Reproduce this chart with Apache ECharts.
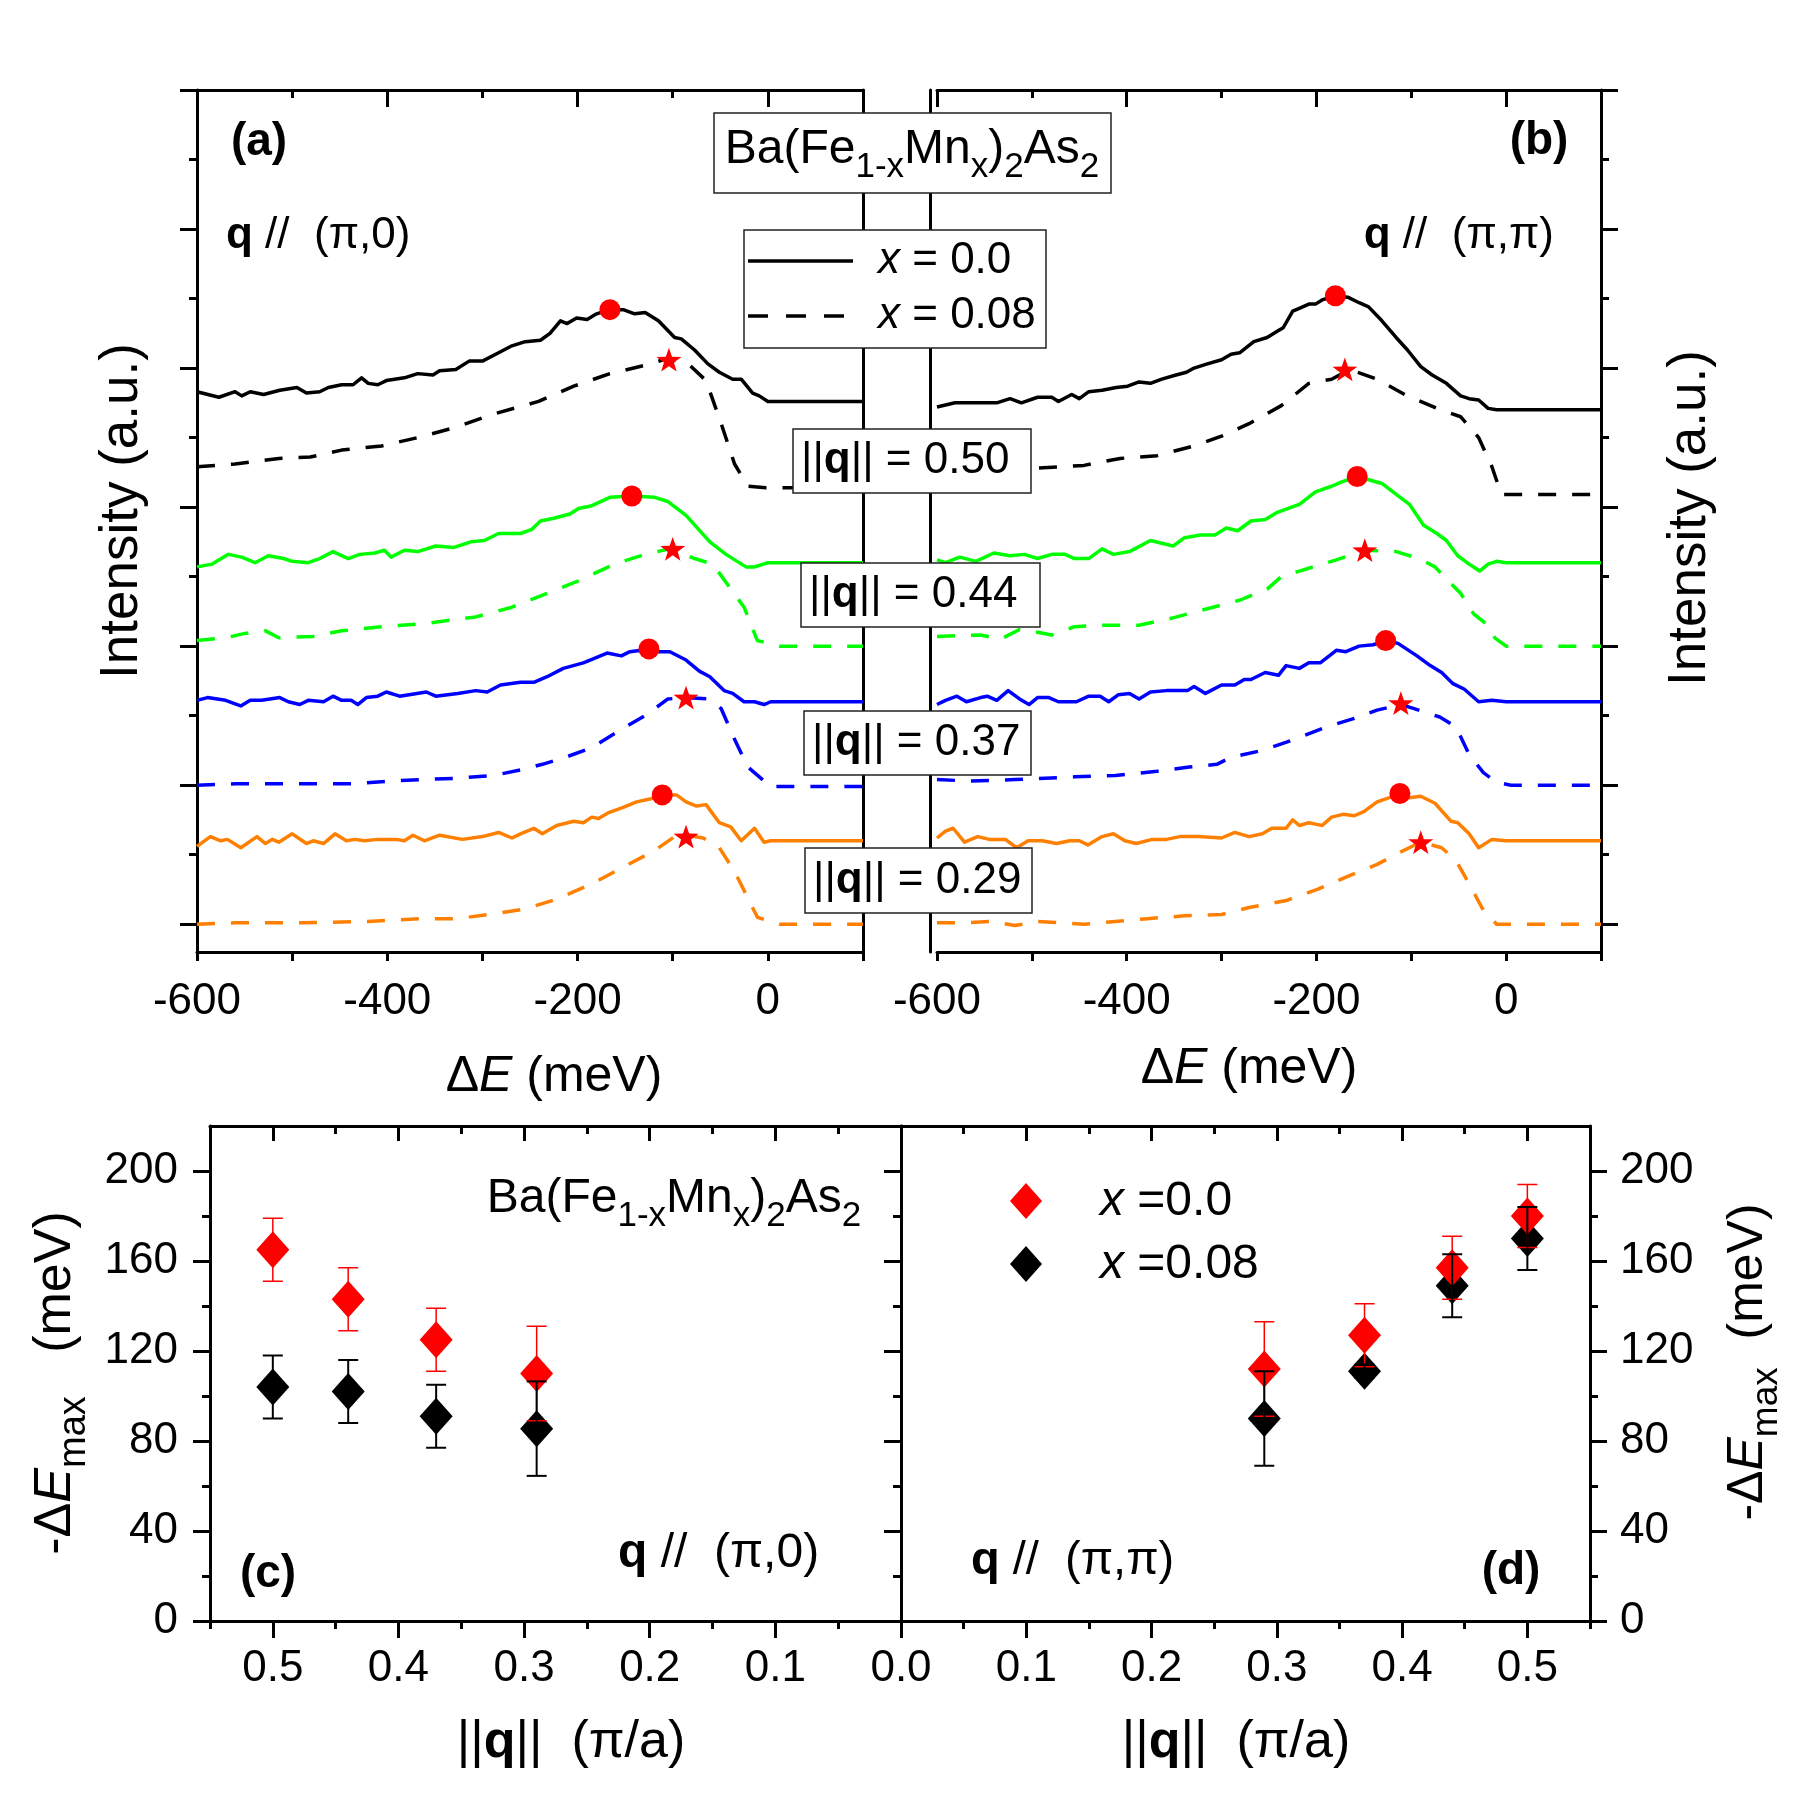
<!DOCTYPE html>
<html lang="en">
<head>
  <meta charset="UTF-8">
  <title>Ba(Fe1-xMnx)2As2 RIXS</title>
  <style>
    html, body { margin: 0; width: 100%; height: 100%; background: #fff; }
  </style>
</head>
<body>
  <div id="chart" style="width:1800px;height:1800px"></div>
  <script src="https://cdn.jsdelivr.net/npm/echarts@6/dist/echarts.min.js"></script>
  <script>
    // ---- tick values ----
    const eMajor = [-600, -400, -200, 0]
    const eMinor = [-500, -300, -100, 100]
    const eAll = [-600, -500, -400, -300, -200, -100, 0, 100]
    const iMajor = [0, 1, 2, 3, 4, 5, 6]
    const iMinor = [0.5, 1.5, 2.5, 3.5, 4.5, 5.5]
    const qMajor = [0, 0.1, 0.2, 0.3, 0.4, 0.5]
    const qMinor = [0.05, 0.15, 0.25, 0.35, 0.45, 0.55]
    const dMajor = [0, 40, 80, 120, 160, 200]
    const dMinor = [20, 60, 100, 140, 180]

    // ---- panel (a): q // (pi,0), [energy loss meV, intensity a.u.] ----
    const aS50 = [[-600,3.83],[-577,3.79],[-560,3.83],[-553,3.80],[-544,3.83],[-530,3.81],[-513,3.84],[-495,3.86],[-485,3.82],[-471,3.83],[-462,3.86],[-448,3.88],[-436,3.88],[-427,3.93],[-420,3.89],[-410,3.88],[-401,3.91],[-382,3.93],[-368,3.96],[-352,3.95],[-345,3.98],[-328,3.99],[-314,4.05],[-300,4.05],[-283,4.11],[-269,4.16],[-255,4.19],[-239,4.20],[-229,4.25],[-218,4.34],[-211,4.32],[-201,4.36],[-190,4.35],[-180,4.39],[-166,4.42],[-152,4.42],[-140,4.39],[-129,4.40],[-115,4.34],[-98,4.22],[-91,4.21],[-77,4.13],[-63,4.03],[-51,3.97],[-37,3.92],[-28,3.92],[-16,3.82],[-9,3.80],[0,3.76],[100,3.76]]
    const aD50 = [[-600,3.29],[-560,3.31],[-514,3.35],[-481,3.36],[-448,3.41],[-406,3.44],[-368,3.50],[-330,3.57],[-288,3.67],[-241,3.76],[-204,3.87],[-166,3.96],[-129,4.02],[-105,4.07],[-82,4.02],[-65,3.91],[-49,3.60],[-35,3.31],[-21,3.15],[-2,3.14],[100,3.14]]
    const aS44 = [[-600,2.57],[-584,2.59],[-567,2.66],[-553,2.64],[-539,2.60],[-525,2.65],[-509,2.63],[-500,2.61],[-483,2.60],[-471,2.63],[-457,2.68],[-441,2.63],[-429,2.66],[-413,2.67],[-403,2.69],[-396,2.64],[-382,2.69],[-368,2.68],[-349,2.72],[-330,2.71],[-312,2.75],[-298,2.76],[-283,2.81],[-260,2.81],[-248,2.84],[-239,2.90],[-225,2.92],[-208,2.95],[-199,2.99],[-185,3.01],[-166,3.07],[-143,3.08],[-119,3.07],[-105,3.04],[-86,2.94],[-61,2.75],[-44,2.66],[-23,2.57],[-14,2.57],[0,2.60],[100,2.60]]
    const aD44 = [[-600,2.04],[-570,2.06],[-551,2.09],[-528,2.11],[-514,2.06],[-478,2.07],[-448,2.11],[-406,2.14],[-363,2.16],[-330,2.19],[-307,2.21],[-269,2.28],[-232,2.38],[-199,2.47],[-161,2.59],[-129,2.66],[-103,2.70],[-77,2.63],[-58,2.59],[-44,2.46],[-25,2.28],[-11,2.04],[12,2.00],[100,2.00]]
    const aS37 = [[-600,1.61],[-589,1.63],[-570,1.61],[-554,1.57],[-544,1.61],[-532,1.61],[-513,1.63],[-504,1.60],[-492,1.58],[-483,1.61],[-467,1.60],[-457,1.64],[-448,1.61],[-438,1.61],[-431,1.58],[-422,1.63],[-410,1.64],[-401,1.67],[-387,1.64],[-359,1.67],[-349,1.64],[-326,1.66],[-307,1.68],[-295,1.67],[-281,1.72],[-260,1.74],[-246,1.74],[-232,1.78],[-215,1.84],[-194,1.88],[-183,1.91],[-169,1.95],[-154,1.93],[-145,1.96],[-133,1.97],[-125,1.98],[-115,1.96],[-103,1.96],[-86,1.90],[-72,1.82],[-61,1.78],[-46,1.68],[-37,1.66],[-25,1.60],[-14,1.60],[-4,1.58],[3,1.60],[100,1.60]]
    const aD37 = [[-600,1.00],[-560,1.01],[-514,1.01],[-471,1.01],[-434,1.01],[-396,1.03],[-363,1.04],[-326,1.05],[-288,1.07],[-260,1.11],[-237,1.15],[-213,1.20],[-185,1.27],[-152,1.41],[-129,1.50],[-105,1.62],[-86,1.63],[-63,1.62],[-49,1.55],[-35,1.33],[-21,1.13],[3,0.99],[100,0.99]]
    const aS29 = [[-600,0.56],[-586,0.63],[-575,0.60],[-568,0.61],[-554,0.55],[-537,0.63],[-528,0.58],[-521,0.61],[-514,0.59],[-500,0.65],[-485,0.58],[-478,0.60],[-467,0.58],[-455,0.65],[-443,0.60],[-434,0.61],[-424,0.60],[-410,0.61],[-391,0.61],[-382,0.60],[-373,0.64],[-361,0.60],[-345,0.64],[-321,0.61],[-300,0.63],[-283,0.66],[-269,0.62],[-260,0.65],[-246,0.69],[-237,0.65],[-222,0.71],[-204,0.74],[-194,0.73],[-185,0.77],[-178,0.76],[-168,0.80],[-152,0.84],[-138,0.88],[-124,0.90],[-111,0.93],[-96,0.93],[-86,0.88],[-75,0.85],[-65,0.86],[-51,0.73],[-39,0.70],[-28,0.60],[-14,0.69],[-4,0.59],[3,0.60],[100,0.60]]
    const aD29 = [[-600,0.00],[-560,0.01],[-490,0.01],[-420,0.02],[-363,0.04],[-326,0.04],[-283,0.08],[-255,0.11],[-222,0.18],[-185,0.29],[-152,0.41],[-119,0.53],[-96,0.64],[-86,0.64],[-68,0.62],[-51,0.55],[-35,0.38],[-11,0.05],[12,0.00],[100,0.00]]

    // ---- panel (b): q // (pi,pi) ----
    const bS50 = [[-600,3.72],[-581,3.75],[-562,3.75],[-537,3.75],[-523,3.78],[-511,3.75],[-494,3.79],[-479,3.79],[-472,3.76],[-458,3.81],[-450,3.78],[-440,3.83],[-426,3.84],[-411,3.86],[-399,3.87],[-387,3.90],[-375,3.89],[-363,3.92],[-348,3.95],[-337,3.97],[-329,4.00],[-315,4.03],[-300,4.06],[-290,4.10],[-281,4.11],[-266,4.19],[-252,4.22],[-240,4.27],[-235,4.29],[-225,4.41],[-218,4.43],[-208,4.46],[-201,4.46],[-194,4.49],[-180,4.52],[-167,4.51],[-155,4.47],[-145,4.44],[-131,4.34],[-116,4.22],[-104,4.13],[-90,4.01],[-78,3.95],[-63,3.89],[-48,3.80],[-39,3.78],[-29,3.77],[-19,3.71],[-10,3.70],[100,3.70]]
    const bD50 = [[-600,3.27],[-550,3.27],[-494,3.28],[-445,3.30],[-407,3.35],[-368,3.37],[-329,3.44],[-300,3.51],[-271,3.60],[-237,3.73],[-208,3.89],[-184,3.92],[-170,3.97],[-157,3.97],[-136,3.92],[-107,3.81],[-73,3.71],[-48,3.65],[-29,3.50],[-15,3.29],[-5,3.09],[100,3.09]]
    const bS44 = [[-600,2.62],[-591,2.60],[-576,2.64],[-559,2.61],[-540,2.67],[-523,2.65],[-508,2.66],[-494,2.63],[-479,2.66],[-465,2.66],[-455,2.63],[-440,2.63],[-426,2.70],[-414,2.66],[-397,2.68],[-375,2.76],[-363,2.74],[-351,2.72],[-339,2.78],[-322,2.80],[-307,2.80],[-295,2.85],[-283,2.83],[-269,2.90],[-254,2.91],[-242,2.96],[-218,3.02],[-201,3.11],[-184,3.15],[-174,3.18],[-157,3.22],[-131,3.17],[-102,3.02],[-87,2.87],[-73,2.81],[-63,2.76],[-51,2.65],[-39,2.59],[-28,2.54],[-19,2.59],[-10,2.61],[0,2.60],[100,2.60]]
    const bD44 = [[-600,2.07],[-554,2.08],[-533,2.05],[-513,2.12],[-494,2.10],[-479,2.08],[-455,2.14],[-426,2.15],[-387,2.15],[-353,2.20],[-320,2.26],[-281,2.33],[-252,2.41],[-237,2.50],[-218,2.54],[-179,2.62],[-149,2.69],[-116,2.68],[-92,2.63],[-75,2.57],[-61,2.47],[-48,2.38],[-34,2.23],[-19,2.15],[-12,2.06],[0,2.00],[100,2.00]]
    const bS37 = [[-600,1.58],[-591,1.61],[-579,1.64],[-569,1.60],[-554,1.63],[-547,1.64],[-537,1.61],[-525,1.68],[-513,1.62],[-503,1.58],[-494,1.63],[-482,1.63],[-472,1.60],[-453,1.60],[-440,1.64],[-428,1.64],[-419,1.60],[-409,1.65],[-397,1.66],[-387,1.62],[-375,1.67],[-358,1.68],[-336,1.68],[-329,1.71],[-317,1.66],[-300,1.72],[-286,1.72],[-276,1.76],[-269,1.76],[-254,1.81],[-240,1.79],[-232,1.86],[-218,1.84],[-208,1.88],[-196,1.88],[-179,1.97],[-169,1.96],[-155,2.00],[-140,2.01],[-127,2.04],[-114,2.02],[-94,1.93],[-80,1.86],[-68,1.81],[-56,1.73],[-44,1.69],[-29,1.60],[-15,1.61],[0,1.60],[100,1.60]]
    const bD37 = [[-600,1.04],[-566,1.03],[-518,1.04],[-455,1.06],[-412,1.07],[-368,1.10],[-334,1.13],[-305,1.15],[-290,1.20],[-257,1.25],[-223,1.33],[-189,1.42],[-160,1.48],[-136,1.54],[-111,1.58],[-97,1.55],[-70,1.49],[-53,1.42],[-39,1.22],[-24,1.09],[-10,1.02],[5,1.00],[100,1.00]]
    const bS29 = [[-600,0.62],[-591,0.67],[-583,0.69],[-571,0.59],[-557,0.63],[-545,0.61],[-528,0.61],[-516,0.55],[-504,0.60],[-489,0.60],[-474,0.58],[-460,0.60],[-450,0.60],[-441,0.57],[-426,0.63],[-414,0.65],[-402,0.60],[-390,0.58],[-373,0.61],[-358,0.61],[-344,0.63],[-324,0.63],[-300,0.62],[-286,0.66],[-271,0.63],[-257,0.65],[-247,0.69],[-232,0.69],[-225,0.75],[-218,0.71],[-208,0.73],[-201,0.72],[-194,0.71],[-184,0.77],[-172,0.79],[-160,0.78],[-150,0.81],[-136,0.88],[-123,0.91],[-112,0.94],[-102,0.91],[-90,0.92],[-75,0.87],[-58,0.74],[-51,0.73],[-39,0.65],[-29,0.55],[-15,0.61],[0,0.60],[100,0.60]]
    const bD29 = [[-600,0.01],[-571,0.01],[-542,0.02],[-518,-0.01],[-494,0.02],[-445,0.00],[-412,0.02],[-378,0.04],[-339,0.06],[-300,0.07],[-271,0.12],[-232,0.17],[-199,0.25],[-165,0.35],[-136,0.43],[-111,0.52],[-90,0.59],[-68,0.55],[-53,0.46],[-39,0.29],[-24,0.10],[-10,0.00],[100,0.00]]

    // peak positions marked in (a) and (b)
    const peaksA00 = [[-166,4.42],[-143,3.08],[-125,1.98],[-111,0.93]]
    const peaksA08 = [[-104,4.06],[-100,2.70],[-86,1.63],[-86,0.63]]
    const peaksB00 = [[-180,4.52],[-157,3.22],[-127,2.04],[-112,0.94]]
    const peaksB08 = [[-170,3.99],[-149,2.69],[-111,1.59],[-90,0.59]]

    // ---- panels (c), (d): -dE_max vs |q| ----
    const qVals = [0.5, 0.44, 0.37, 0.29]
    const cX00 = [165, 143, 125, 110]
    const cX00Err = [14, 14, 14, 21]
    const cX08 = [104, 102, 91, 85.5]
    const cX08Err = [14, 14, 14, 21]
    const dX00 = [180, 157, 127, 112]
    const dX00Err = [14, 14, 14, 21]
    const dX08 = [170, 149, 111, 90]
    const dX08Err = [14, 14, 3, 21]

    const FONT = '"Liberation Sans", Arial, sans-serif'
    const BLACK = '#000000', GREEN = '#00ff00', BLUE = '#0000ff', ORANGE = '#ff8000', RED = '#ff0000'
    const DASH = [18, 16]
    const STAR = 'path://M0,-10L2.35,-3.24L9.51,-3.09L3.8,1.24L5.88,8.09L0,4L-5.88,8.09L-3.8,1.24L-9.51,-3.09L-2.35,-3.24Z'

    const line = { show: true, onZero: false, lineStyle: { color: '#000', width: 3 } }
    const noLine = { show: false, onZero: false }
    function ticks(vals, len, inside) {
      return { show: true, customValues: vals, length: len, inside: !!inside, lineStyle: { color: '#000', width: 3 } }
    }
    function labels(vals, margin, fmt) {
      return { show: true, customValues: vals, margin: margin, color: '#000', fontSize: 44, fontFamily: FONT, formatter: fmt }
    }
    function axis(o) {
      return Object.assign({
        type: 'value', splitLine: { show: false }, axisLine: noLine,
        axisTick: { show: false }, axisLabel: { show: false }
      }, o)
    }
    const q1 = v => v.toFixed(1)
    const eRange = { min: -600, max: 100 }
    const iRange = { min: -0.2, max: 6 }
    const qRange = { min: 0, max: 0.55 }
    const dRange = { min: 0, max: 220 }

    const xAxes = [
      // (a)
      axis(Object.assign({ gridIndex: 0, position: 'bottom', axisLine: line, axisTick: ticks(eAll, 9), axisLabel: labels(eMajor, 28) }, eRange)),
      axis(Object.assign({ gridIndex: 0, position: 'top', axisLine: line, axisTick: ticks(eMajor, 17, true) }, eRange)),
      axis(Object.assign({ gridIndex: 0, position: 'top', axisTick: ticks(eMinor, 8, true) }, eRange)),
      // (b)
      axis(Object.assign({ gridIndex: 1, position: 'bottom', axisLine: line, axisTick: ticks(eAll, 9), axisLabel: labels(eMajor, 28) }, eRange)),
      axis(Object.assign({ gridIndex: 1, position: 'top', axisLine: line, axisTick: ticks(eMajor, 17, true) }, eRange)),
      axis(Object.assign({ gridIndex: 1, position: 'top', axisTick: ticks(eMinor, 8, true) }, eRange)),
      // (c)
      axis(Object.assign({ gridIndex: 2, position: 'bottom', inverse: true, axisLine: line, axisTick: ticks(qMajor, 17), axisLabel: labels([0.1, 0.2, 0.3, 0.4, 0.5], 26, q1) }, qRange)),
      axis(Object.assign({ gridIndex: 2, position: 'bottom', inverse: true, axisTick: ticks(qMinor, 8) }, qRange)),
      axis(Object.assign({ gridIndex: 2, position: 'top', inverse: true, axisLine: line, axisTick: ticks(qMajor, 15, true) }, qRange)),
      axis(Object.assign({ gridIndex: 2, position: 'top', inverse: true, axisTick: ticks(qMinor, 8, true) }, qRange)),
      // (d)
      axis(Object.assign({ gridIndex: 3, position: 'bottom', axisLine: line, axisTick: ticks(qMajor, 17), axisLabel: labels(qMajor, 26, q1) }, qRange)),
      axis(Object.assign({ gridIndex: 3, position: 'bottom', axisTick: ticks(qMinor, 8) }, qRange)),
      axis(Object.assign({ gridIndex: 3, position: 'top', axisLine: line, axisTick: ticks(qMajor, 15, true) }, qRange)),
      axis(Object.assign({ gridIndex: 3, position: 'top', axisTick: ticks(qMinor, 8, true) }, qRange))
    ]
    const yAxes = [
      // (a)
      axis(Object.assign({ gridIndex: 0, position: 'left', axisLine: line, axisTick: ticks(iMajor, 17) }, iRange)),
      axis(Object.assign({ gridIndex: 0, position: 'left', axisTick: ticks(iMinor, 8) }, iRange)),
      axis(Object.assign({ gridIndex: 0, position: 'right', axisLine: line }, iRange)),
      // (b)
      axis(Object.assign({ gridIndex: 1, position: 'left', offset: 7, axisLine: line }, iRange)),
      axis(Object.assign({ gridIndex: 1, position: 'right', axisLine: line, axisTick: ticks(iMajor, 17) }, iRange)),
      axis(Object.assign({ gridIndex: 1, position: 'right', axisTick: ticks(iMinor, 8) }, iRange)),
      // (c)
      axis(Object.assign({ gridIndex: 2, position: 'left', axisLine: line, axisTick: ticks(dMajor, 17), axisLabel: labels(dMajor, 32) }, dRange)),
      axis(Object.assign({ gridIndex: 2, position: 'left', axisTick: ticks(dMinor, 8) }, dRange)),
      axis(Object.assign({ gridIndex: 2, position: 'right', axisLine: line, axisTick: ticks(dMajor, 17, true) }, dRange)),
      axis(Object.assign({ gridIndex: 2, position: 'right', axisTick: ticks(dMinor, 8, true) }, dRange)),
      // (d)
      axis(Object.assign({ gridIndex: 3, position: 'left', axisLine: line }, dRange)),
      axis(Object.assign({ gridIndex: 3, position: 'right', axisLine: line, axisTick: ticks(dMajor, 17), axisLabel: labels(dMajor, 30) }, dRange)),
      axis(Object.assign({ gridIndex: 3, position: 'right', axisTick: ticks(dMinor, 8) }, dRange))
    ]

    function curve(data, color, dashed, xi, yi) {
      return {
        type: 'line', data: data, xAxisIndex: xi, yAxisIndex: yi, symbol: 'none', showSymbol: false,
        z: 2, silent: true, animation: false,
        lineStyle: { color: color, width: 3.5, type: dashed ? DASH : 'solid', cap: 'butt', join: 'round' }
      }
    }
    function peaks(data, star, xi, yi) {
      return {
        type: 'scatter', data: data, xAxisIndex: xi, yAxisIndex: yi, z: 4, silent: true, animation: false,
        symbol: star ? STAR : 'circle', symbolSize: star ? 25 : 21, symbolKeepAspect: true,
        itemStyle: { color: RED, opacity: 1 }
      }
    }
    function diamonds(vals, color, xi, yi, z) {
      return {
        type: 'scatter', data: qVals.map((q, i) => [q, vals[i]]), xAxisIndex: xi, yAxisIndex: yi, z: z,
        silent: true, animation: false, symbol: 'diamond', symbolSize: [33, 37], itemStyle: { color: color, opacity: 1 }
      }
    }
    function errbars(vals, errs, color, width, xi, yi) {
      return {
        type: 'custom', xAxisIndex: xi, yAxisIndex: yi, z: 6, silent: true, animation: false,
        data: qVals.map((q, i) => [q, vals[i], errs[i]]),
        encode: { x: 0, y: 1 },
        renderItem: function (params, api) {
          const x = api.value(0), y = api.value(1), e = api.value(2)
          const top = api.coord([x, y + e])
          const bot = api.coord([x, y - e])
          const st = { stroke: color, lineWidth: width }
          const hw = 10
          return {
            type: 'group', children: [
              { type: 'line', shape: { x1: top[0], y1: top[1], x2: bot[0], y2: bot[1] }, style: st },
              { type: 'line', shape: { x1: top[0] - hw, y1: top[1], x2: top[0] + hw, y2: top[1] }, style: st },
              { type: 'line', shape: { x1: bot[0] - hw, y1: bot[1], x2: bot[0] + hw, y2: bot[1] }, style: st }
            ]
          }
        }
      }
    }

    const series = [
      curve(aS50, BLACK, false, 0, 0), curve(aD50, BLACK, true, 0, 0),
      curve(aS44, GREEN, false, 0, 0), curve(aD44, GREEN, true, 0, 0),
      curve(aS37, BLUE, false, 0, 0), curve(aD37, BLUE, true, 0, 0),
      curve(aS29, ORANGE, false, 0, 0), curve(aD29, ORANGE, true, 0, 0),
      curve(bS50, BLACK, false, 3, 4), curve(bD50, BLACK, true, 3, 4),
      curve(bS44, GREEN, false, 3, 4), curve(bD44, GREEN, true, 3, 4),
      curve(bS37, BLUE, false, 3, 4), curve(bD37, BLUE, true, 3, 4),
      curve(bS29, ORANGE, false, 3, 4), curve(bD29, ORANGE, true, 3, 4),
      peaks(peaksA00, false, 0, 0), peaks(peaksA08, true, 0, 0),
      peaks(peaksB00, false, 3, 4), peaks(peaksB08, true, 3, 4),
      diamonds(cX08, BLACK, 6, 6, 3), diamonds(cX00, RED, 6, 6, 4),
      diamonds(dX08, BLACK, 10, 11, 3), diamonds(dX00, RED, 10, 11, 4),
      errbars(cX00, cX00Err, RED, 1.5, 6, 6), errbars(cX08, cX08Err, BLACK, 2, 6, 6),
      errbars(dX00, dX00Err, RED, 1.5, 10, 11), errbars(dX08, dX08Err, BLACK, 2, 10, 11)
    ]

    // ---- annotations ----
    function rich(S) {
      const s = Math.round(S * 0.73)
      return {
        b: { fontSize: S, fontFamily: FONT, fontWeight: 'bold', lineHeight: S + 4 },
        i: { fontSize: S, fontFamily: FONT, fontStyle: 'italic', lineHeight: S + 4 },
        s: { fontSize: s, fontFamily: FONT, lineHeight: s, padding: [Math.round(S * 0.73), 0, 0, 0] }
      }
    }
    function text(x, y, str, S, opt) {
      opt = opt || {}
      return {
        type: 'text', x: x, y: y, z: 100, rotation: opt.rot || 0,
        style: {
          text: str, fill: '#000', fontSize: S, fontFamily: FONT, fontWeight: opt.bold ? 'bold' : 'normal',
          lineHeight: S + 4, align: opt.align || 'center', verticalAlign: 'middle',
          textAlign: opt.align || 'center', textVerticalAlign: 'middle', rich: rich(S)
        }
      }
    }
    function box(x, y, w, h) {
      return { type: 'rect', z: 99, shape: { x: x, y: y, width: w, height: h }, style: { fill: '#fff', stroke: '#222', lineWidth: 1.5 } }
    }
    const formula = 'Ba(Fe{s|1-x}Mn{s|x}){s|2}As{s|2}'
    const qBoxes = [[793, 429, 238, 64, '0.50'], [801, 563, 239, 64, '0.44'], [804, 711, 227, 64, '0.37'], [805, 848, 227, 65, '0.29']]
    const R = Math.PI / 2

    const graphics = [
      box(714, 113, 397, 80), text(912, 150, formula, 48),
      box(744, 230, 302, 118),
      { type: 'line', z: 100, shape: { x1: 748, y1: 261, x2: 853, y2: 261 }, style: { stroke: '#000', lineWidth: 3.5 } },
      { type: 'line', z: 100, shape: { x1: 748, y1: 316, x2: 853, y2: 316 }, style: { stroke: '#000', lineWidth: 3.5, lineDash: [20, 18] } },
      text(878, 261, '{i|x} = 0.0', 44, { align: 'left' }),
      text(878, 316, '{i|x} = 0.08', 44, { align: 'left' }),
      text(259, 142, '(a)', 46, { bold: true }),
      text(1539, 141, '(b)', 46, { bold: true }),
      text(226, 236, '{b|q} //  (π,0)', 44, { align: 'left' }),
      text(1554, 236, '{b|q} //  (π,π)', 44, { align: 'right' }),
      text(122, 511, 'Intensity (a.u.)', 53, { rot: R }),
      text(1690, 518, 'Intensity (a.u.)', 53, { rot: R }),
      text(554, 1077, 'Δ{i|E} (meV)', 50),
      text(1249, 1069, 'Δ{i|E} (meV)', 50),
      text(674, 1199, formula, 48),
      text(618, 1554, '{b|q} //  (π,0)', 48, { align: 'left' }),
      text(268, 1574, '(c)', 46, { bold: true }),
      text(971, 1561, '{b|q} //  (π,π)', 47, { align: 'left' }),
      text(1511, 1571, '(d)', 46, { bold: true }),
      { type: 'polygon', z: 100, shape: { points: [[1026, 1183], [1042, 1201], [1026, 1219], [1010, 1201]] }, style: { fill: RED } },
      { type: 'polygon', z: 100, shape: { points: [[1026, 1246], [1042, 1264], [1026, 1282], [1010, 1264]] }, style: { fill: BLACK } },
      text(1100, 1202, '{i|x} =0.0', 48, { align: 'left' }),
      text(1100, 1265, '{i|x} =0.08', 48, { align: 'left' }),
      text(571, 1743, '||{b|q}||  (π/a)', 52),
      text(1236, 1743, '||{b|q}||  (π/a)', 52),
      text(56, 1383, '-Δ{i|E}{s|max}   (meV)', 52, { rot: R }),
      text(1748, 1362, '-Δ{i|E}{s|max}  (meV)', 50, { rot: R })
    ]
    qBoxes.forEach(b => {
      graphics.push(box(b[0], b[1], b[2], b[3]))
      graphics.push(text(b[0] + 8, b[1] + b[3] / 2, '||{b|q}|| = ' + b[4], 44, { align: 'left' }))
    })

    const option = {
      backgroundColor: '#fff',
      animation: false,
      grid: [
        { left: 197, top: 90, width: 666, height: 862 },
        { left: 937, top: 90, width: 664, height: 862 },
        { left: 210, top: 1126, width: 691, height: 495 },
        { left: 901, top: 1126, width: 689, height: 495 }
      ],
      xAxis: xAxes,
      yAxis: yAxes,
      series: series,
      graphic: { elements: graphics }
    }
    const myChart = echarts.init(document.getElementById('chart'))
    myChart.setOption(option)
  </script>
</body>
</html>
